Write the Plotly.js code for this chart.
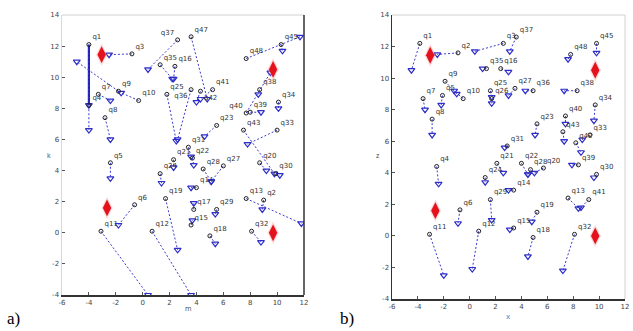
<!DOCTYPE html>
<html>
<head>
<meta charset="utf-8">
<script src="https://cdn.plot.ly/plotly-3.0.1.min.js"></script>
<style>html,body{margin:0;padding:0;background:#fff;}#chart{width:633px;height:331px;}</style>
</head>
<body>
<div id="chart"></div>
<script>
// ---------- panel a) ----------
const aLabels = ['q1','q4','q3','q9','q10','q7','q8','q37','q47','q35','q16','q25','q36','q41','q42','q23','q31','q48','q45','q38','q40','q34','q39','q33','q43','q20','q30','q5','q21','q24','q22','q28','q27','q14','q29','q17','q15','q18','q13','q2','q32','q6','q11','q12','q19'];
const aStartX = [-4.0,-4.0,-0.8,-1.8,-0.3,-3.3,-2.8, 2.6, 3.6, 1.3, 2.4, 1.8, 3.6, 5.2, 4.3, 5.5, 3.4, 7.7,10.3, 8.7, 7.7,10.1, 8.0,10.0, 7.5, 8.7, 9.9,-2.4, 2.3, 1.3, 3.7, 4.5, 6.0, 4.0, 5.5, 3.8, 3.6, 5.0, 7.7, 9.0, 8.1,-0.6,-3.1, 0.7, 1.7];
const aStartY = [12.1, 8.2,11.5, 9.1, 8.5, 8.9, 7.4,12.4,12.6,10.8,10.7, 8.9, 9.2, 9.2, 9.1, 6.9, 5.5,11.2,12.1, 9.2, 7.7, 8.4, 7.75,6.6, 6.6, 4.5, 3.8, 4.5, 4.7, 3.8, 4.8, 4.1, 4.3, 2.9, 1.5, 1.5, 0.5,-0.2, 2.2, 2.1, 0.1, 1.8, 0.1, 0.1, 2.2];
const aEndX   = [-4.0,-4.0,-2.5,-4.9,-1.6,-2.4,-2.4, 0.4, 4.8, 2.2, 2.3, 2.5, 2.6, 4.3, 4.0, 4.6, 3.6,11.7,10.4, 8.6, 9.5,10.1, 8.8, 7.8, 9.8, 9.2,10.2,-2.4, 2.3, 1.4, 3.8, 5.1, 5.1, 3.6, 5.4, 3.8, 3.7, 5.4,11.8, 8.9, 8.8,-1.8, 0.4, 3.6, 2.6];
const aEndY   = [ 8.2, 6.6,11.45,11.0,9.0, 8.5, 6.0,10.5, 8.6, 9.9, 9.9, 5.9, 6.0, 8.6, 8.4, 6.2, 4.9,12.6,11.7, 8.9,10.3, 8.0, 7.75,5.7, 3.8, 4.0, 3.7, 3.5, 4.2, 3.2, 4.35,3.3, 3.3, 2.9, 1.2, 1.9, 0.8,-0.7, 0.6, 1.5,-0.6, 0.5,-4.0,-4.0,-1.1];
const aSolidX = [-4.0,-4.0];
const aSolidY = [12.1, 8.2];

// ---------- panel b) ----------
const bLabels = ['q1','q2','q3','q37','q35','q16','q9','q10','q5','q7','q8','q25','q26','q27','q36','q48','q45','q38','q34','q40','q43','q33','q23','q31','q42','q4','q21','q24','q22','q28','q20','q14','q30','q39','q13','q41','q29','q6','q11','q12','q15','q19','q18','q32'];
const bStartX = [-3.85,-0.9, 2.6, 3.6, 1.3, 2.4,-1.9,-0.5,-2.1,-3.6,-2.9, 1.6, 1.7, 3.5, 4.9, 7.8, 9.8, 8.3, 9.7, 7.4, 7.2, 9.3, 5.2, 2.9, 8.2,-2.55, 2.1, 1.2, 4.0, 4.7, 5.7, 3.4, 9.8, 8.4, 7.6, 9.2, 1.6,-0.75,-3.1, 0.7, 3.4, 5.2, 4.9, 8.1];
const bStartY = [12.2,11.6,12.2,12.6,10.6,10.6, 9.8, 8.7, 8.9, 8.7, 7.4, 9.2, 8.7, 9.35,9.2,11.5,12.2, 9.2, 8.3, 7.6, 6.6, 6.4, 7.1, 5.7, 5.9, 4.4, 4.6, 3.7, 4.6, 4.2, 4.3, 2.9, 3.9, 4.5, 2.4, 2.3, 2.3, 1.65, 0.1, 0.3, 0.5, 1.5,-0.1, 0.1];
const bEndX   = [-4.5,-2.5, 0.4, 3.1, 1.0, 3.0,-1.0,-1.2,-2.2,-3.45,-2.9, 1.7, 1.7, 3.0, 4.3, 7.6, 9.8, 7.3, 9.6, 7.4, 7.3, 8.7, 5.05,2.7, 8.6,-2.4, 2.6, 1.2, 4.5, 4.5, 5.0, 3.0, 9.6, 7.9, 8.4, 8.6, 1.7,-0.9,-2.0, 0.2, 3.1, 4.8, 4.5, 7.2];
const bEndY   = [10.5,11.5,11.7,11.7,10.6,10.4, 9.0, 9.2, 8.3, 8.0, 6.4, 8.8, 8.4, 8.9, 9.2,11.2,11.6, 9.2, 7.3, 7.1, 6.0, 6.1, 6.4, 5.6, 5.3, 3.3, 4.0, 3.4, 3.9, 3.9, 4.0, 2.9, 3.7, 4.5, 1.75,1.8, 1.0, 0.8,-2.5,-2.1, 0.4, 0.9,-1.3,-2.2];

// ---------- depots (red diamonds), same in both panels ----------
const depotX = [-3.05, 9.7, -2.65, 9.7];
const depotY = [11.45, 10.5, 1.6, 0.0];

// ---------- axis ticks ----------
const xTicks = [-6,-4,-2,0,2,4,6,8,10,12];
const yTicks = [-4,-2,0,2,4,6,8,10,12,14];

// label placement tweaks (to avoid overlapping texts)
const aTextPos = aLabels.map(l => ({q37:'top left', q42:'bottom right', q36:'bottom left', q40:'top left'}[l] || 'top right'));
const bTextPos = bLabels.map(l => 'top right');

const lineBlue = '#3a3ad0';
function segments(sx, sy, ex, ey) {
  const x = [], y = [];
  for (let i = 0; i < sx.length; i++) { x.push(sx[i], ex[i], null); y.push(sy[i], ey[i], null); }
  return {x, y};
}
function panelTraces(labels, sx, sy, ex, ey, tpos, xa, ya) {
  const s = segments(sx, sy, ex, ey);
  return [
    {type:'scatter', mode:'lines', x:s.x, y:s.y, xaxis:xa, yaxis:ya, hoverinfo:'skip',
     line:{color:lineBlue, width:1, dash:'2px,2px'}, showlegend:false},
    {type:'scatter', mode:'markers', x:ex, y:ey, xaxis:xa, yaxis:ya,
     marker:{symbol:'triangle-down-open', size:6, color:'#2e2ec8', line:{width:1.2, color:'#2e2ec8'}}, showlegend:false},
    {type:'scatter', mode:'markers+text', x:sx, y:sy, xaxis:xa, yaxis:ya, text:labels,
     textposition:tpos, textfont:{size:7, color:'#333', family:'DejaVu Sans'},
     marker:{symbol:'circle-open', size:4, color:'#222', line:{width:1, color:'#222'}}, showlegend:false},
    {type:'scatter', mode:'markers', x:depotX, y:depotY, xaxis:xa, yaxis:ya,
     marker:{symbol:'diamond-tall', size:16, color:'rgba(255,140,140,0.35)'}, showlegend:false},
    {type:'scatter', mode:'markers', x:depotX, y:depotY, xaxis:xa, yaxis:ya,
     marker:{symbol:'diamond-tall', size:12, color:'#e3121c'}, showlegend:false}
  ];
}

const traces = [
  {type:'scatter', mode:'lines', x:aSolidX, y:aSolidY, xaxis:'x', yaxis:'y',
   line:{color:'#2020b8', width:2.2}, showlegend:false}
].concat(panelTraces(aLabels, aStartX, aStartY, aEndX, aEndY, aTextPos, 'x', 'y'))
 .concat(panelTraces(bLabels, bStartX, bStartY, bEndX, bEndY, bTextPos, 'x2', 'y2'));

const tickFont = {size:7, color:'#444', family:'DejaVu Sans'};
function xAxis(domain, anchor) {
  return {domain, anchor, range:[-6,12], tickvals:xTicks, ticktext:xTicks.map(String),
    showgrid:false, zeroline:false, showline:true, linecolor:'#333', linewidth:1.5,
    ticks:'inside', ticklen:3, tickcolor:'#555', tickfont:tickFont};
}
function yAxis(domain, anchor, lineColor) {
  return {domain, anchor, range:[-4,14], tickvals:yTicks, ticktext:yTicks.map(String),
    showgrid:false, zeroline:false, showline:true, linecolor:lineColor, linewidth:1.5,
    ticks:'inside', ticklen:3, tickcolor:'#555', tickfont:tickFont};
}

const layout = {
  width:633, height:331, margin:{l:0, r:0, t:0, b:0},
  paper_bgcolor:'#fff', plot_bgcolor:'#fff', showlegend:false,
  xaxis: xAxis([62/633, 304/633], 'y'),
  yaxis: yAxis([1-295/331, 1-15/331], 'x', '#d8d8d8'),
  xaxis2: xAxis([392/633, 625/633], 'y2'),
  yaxis2: yAxis([1-299/331, 1-15/331], 'x2', '#333'),
  shapes: [
    {type:'line', xref:'x domain', yref:'y domain', x0:0, x1:1, y0:1, y1:1, line:{color:'#d0d0d0', width:1}},
    {type:'line', xref:'x domain', yref:'y domain', x0:1, x1:1, y0:0, y1:1, line:{color:'#333', width:1.5}},
    {type:'line', xref:'x2 domain', yref:'y2 domain', x0:0, x1:1, y0:1, y1:1, line:{color:'#d0d0d0', width:1}},
    {type:'line', xref:'x2 domain', yref:'y2 domain', x0:1, x1:1, y0:0, y1:1, line:{color:'#d0d0d0', width:1}}
  ],
  annotations: [
    {text:'a)', xref:'paper', yref:'paper', x:5/633, y:1-318/331, xanchor:'left', yanchor:'middle', showarrow:false,
     font:{size:17, color:'#000', family:'Liberation Serif'}},
    {text:'b)', xref:'paper', yref:'paper', x:338/633, y:1-318/331, xanchor:'left', yanchor:'middle', showarrow:false,
     font:{size:17, color:'#000', family:'Liberation Serif'}},
    {text:'m', xref:'paper', yref:'paper', x:183/633, y:1-315/331, showarrow:false, font:{size:7, color:'#444'}},
    {text:'x', xref:'paper', yref:'paper', x:513/633, y:1-323/331, showarrow:false, font:{size:8, color:'#4a7fd6'}},
    {text:'k', xref:'paper', yref:'paper', x:45/633, y:1-155/331, showarrow:false, font:{size:7, color:'#444'}},
    {text:'z', xref:'paper', yref:'paper', x:377/633, y:1-155/331, showarrow:false, font:{size:7, color:'#444'}}
  ]
};

Plotly.newPlot('chart', traces, layout, {staticPlot:true, displayModeBar:false});
</script>
</body>
</html>
